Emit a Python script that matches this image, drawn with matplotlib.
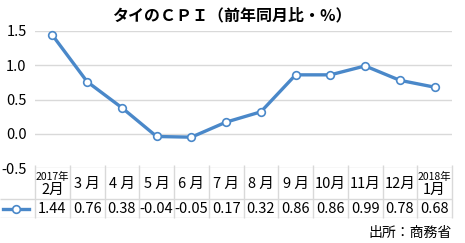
import matplotlib
import matplotlib.pyplot as plt

matplotlib.rcParams["font.family"] = ["Noto Sans CJK JP", "DejaVu Sans"]

W, H = 465, 243

# data
months = ["2月", "3 月", "4 月", "5 月", "6 月", "7 月", "8 月", "9 月", "10月", "11月", "12月", "1月"]
year_tags = {0: "2017年", 11: "2018年"}
cpi = [1.44, 0.76, 0.38, -0.04, -0.05, 0.17, 0.32, 0.86, 0.86, 0.99, 0.78, 0.68]
yticks = [-0.5, 0.0, 0.5, 1.0, 1.5]

line_color = "#4a88c9"
grid_color = "#d9d9d9"


def px_axes(fig, x0, y0, x1, y1):
    # pixel box (top-left origin) -> figure axes
    return fig.add_axes([x0 / W, (H - y1) / H, (x1 - x0) / W, (y1 - y0) / H])


fig = plt.figure(figsize=(W / 100, H / 100), dpi=100)

ax = px_axes(fig, 35, 31, 452, 168)
x = list(range(len(cpi)))
ax.plot(x, cpi, color=line_color, lw=2.4, marker="o", ms=5.5,
        mfc="white", mec=line_color, mew=1.2, clip_on=False, zorder=3)
ax.set_xlim(-0.5, len(cpi) - 0.5)
ax.set_ylim(-0.5, 1.5)
ax.set_yticks(yticks)
ax.set_yticklabels([f"{v:.1f}" for v in yticks], fontsize=10.5)
ax.set_xticks([])
ax.tick_params(axis="y", length=0, pad=6)
for s in ax.spines.values():
    s.set_visible(False)
ax.grid(axis="y", color=grid_color, lw=1)
ax.set_axisbelow(True)

fig.text(232 / W, 1 - 15 / H, "タイのＣＰＩ（前年同月比・%）", ha="center", va="center",
         fontsize=11.5, fontweight="bold")

# table under the chart
n = len(cpi)
scale = n / 417
tx = px_axes(fig, 0, 168, 452, 218)
tx.set_xlim(-0.5 - 35 * scale, n - 0.5)
tx.set_ylim(50, 0)
tx.axis("off")
tx.hlines([31, 50], -0.5 - 35 * scale, n - 0.5, color=grid_color, lw=1)
tx.vlines([i - 0.5 for i in range(n + 1)], -3, 50, color=grid_color, lw=1, clip_on=False)

for i, (m, v) in enumerate(zip(months, cpi)):
    if i in year_tags:
        tx.text(i, 9, year_tags[i], ha="center", va="center", fontsize=7.5)
        tx.text(i, 22, m, ha="center", va="center", fontsize=10.5)
    else:
        tx.text(i, 16, m, ha="center", va="center", fontsize=10.5)
    tx.text(i, 41, f"{v:.2f}", ha="center", va="center", fontsize=10.5)

tx.plot([-0.5 - 32 * scale, -0.5 - 6 * scale], [41, 41], color=line_color, lw=2.4)
tx.plot([-0.5 - 19 * scale], [41], marker="o", ms=5.5, mfc="white",
        mec=line_color, mew=1.2, color=line_color)

fig.text(452 / W, 1 - 233 / H, "出所：商務省", ha="right", va="center", fontsize=10)

fig.savefig("out.png", dpi=100)
